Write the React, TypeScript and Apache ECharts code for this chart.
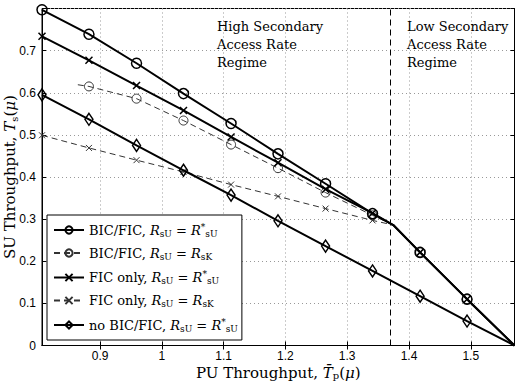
import React, { useEffect, useRef } from 'react';
import * as echarts from 'echarts';

// ---- data ----
const xTicks = [0.9, 1.0, 1.1, 1.2, 1.3, 1.4, 1.5];
const yTicks = [0, 0.1, 0.2, 0.3, 0.4, 0.5, 0.6, 0.7];
const xMin = 0.806;
const xMax = 1.5708;
const regimeBoundary = 1.3746;

const xKinked = [0.806, 0.882, 0.959, 1.035, 1.112, 1.188, 1.265, 1.341, 1.3746, 1.418, 1.494, 1.5708];
const xBicFicK = [0.864, 0.882, 0.959, 1.035, 1.112, 1.188, 1.265, 1.341, 1.3746, 1.418, 1.494, 1.5708];
const xNoBic = [0.806, 0.882, 0.959, 1.035, 1.112, 1.188, 1.265, 1.341, 1.418, 1.494, 1.5708];

const bicFicOpt = [0.797, 0.739, 0.670, 0.598, 0.527, 0.455, 0.384, 0.313, 0.286, 0.221, 0.110, 0];
const bicFicK = [0.619, 0.615, 0.586, 0.534, 0.477, 0.421, 0.363, 0.309, 0.286, 0.221, 0.110, 0];
const ficOnlyOpt = [0.734, 0.677, 0.617, 0.558, 0.495, 0.434, 0.371, 0.314, 0.286, 0.221, 0.110, 0];
const ficOnlyK = [0.499, 0.469, 0.440, 0.412, 0.382, 0.354, 0.325, 0.297, 0.286, 0.221, 0.110, 0];
const noBicFic = [0.595, 0.537, 0.475, 0.416, 0.357, 0.296, 0.236, 0.177, 0.117, 0.058, 0];

const noMarkerX = [0.864, 1.3746, 1.5708];

const seriesNames = [
  'BIC/FIC, RsU = R*sU',
  'BIC/FIC, RsU = RsK',
  'FIC only, RsU = R*sU',
  'FIC only, RsU = RsK',
  'no BIC/FIC, RsU = R*sU',
];
const legendRich: Record<string, string> = {
  'BIC/FIC, RsU = R*sU': '{n|BIC/FIC, }{i|R}{sub|sU}{n| = }{i|R}{sup|*}{sub|sU}',
  'BIC/FIC, RsU = RsK': '{n|BIC/FIC, }{i|R}{sub|sU}{n| = }{i|R}{sub|sK}',
  'FIC only, RsU = R*sU': '{n|FIC only, }{i|R}{sub|sU}{n| = }{i|R}{sup|*}{sub|sU}',
  'FIC only, RsU = RsK': '{n|FIC only, }{i|R}{sub|sU}{n| = }{i|R}{sub|sK}',
  'no BIC/FIC, RsU = R*sU': '{n|no BIC/FIC, }{i|R}{sub|sU}{n| = }{i|R}{sup|*}{sub|sU}',
};

const SERIF = 'DejaVu Serif';
const SANS = 'Liberation Sans';

function mkRich(size: number, lh: number) {
  const s = Math.round(size * 0.68);
  return {
    n: { fontFamily: SERIF, fontSize: size, lineHeight: lh, color: '#000' },
    i: { fontFamily: SERIF, fontStyle: 'italic', fontSize: size, lineHeight: lh, color: '#000' },
    sub: { fontFamily: SERIF, fontSize: s, lineHeight: s, verticalAlign: 'bottom', color: '#000' },
    sup: { fontFamily: SERIF, fontSize: s, lineHeight: s, verticalAlign: 'top', color: '#000' },
  };
}

const X_PATH = 'path://M0,0L10,10M10,0L0,10';
const DIAMOND_PATH = 'path://M5,0L10,7L5,14L0,7Z';

function buildData(xs: number[], ys: number[]) {
  return xs.map((x, i) =>
    noMarkerX.includes(x)
      ? { value: [x, ys[i]], symbol: 'none' }
      : { value: [x, ys[i]] }
  );
}

export default function App() {
  const ref = useRef<HTMLDivElement>(null);
  useEffect(() => {
    const chart = echarts.init(ref.current!, null, { renderer: 'svg' });

    const solidLine = { color: '#000', width: 2, type: 'solid' as const };
    const dashLine = { color: '#333', width: 1, type: [6, 4] as any };

    const option: any = {
      animation: false,
      backgroundColor: '#fff',
      grid: {
        left: 42, right: 1.5, top: 8.5, bottom: 37.5, show: true,
        borderColor: '#000', borderWidth: 1,
        containLabel: false, outerBoundsMode: 'none',
      },
      xAxis: [
        {
          type: 'value', min: xMin, max: xMax, position: 'bottom',
          name: '{n|PU Throughput, }{i|T̄}{sub|p}{n|(}{i|μ}{n|)}',
          nameLocation: 'middle', nameGap: 19, nameMoveOverlap: false,
          nameTextStyle: { rich: mkRich(15, 16) },
          axisLine: { lineStyle: { color: '#000', width: 1 } },
          axisTick: { inside: true, length: 4, customValues: xTicks, lineStyle: { color: '#000' } },
          axisLabel: { customValues: xTicks, color: '#000', fontFamily: SANS, fontSize: 12, lineHeight: 12, margin: 4 },
          splitLine: { show: true, lineStyle: { color: '#999', type: [1, 3], width: 1 } },
        },
        {
          type: 'value', min: xMin, max: xMax, position: 'top',
          axisLine: { lineStyle: { color: '#000', width: 1 } },
          axisTick: { inside: true, length: 4, customValues: xTicks, lineStyle: { color: '#000' } },
          axisLabel: { show: false },
          splitLine: { show: false },
        },
      ],
      yAxis: [
        {
          type: 'value', min: 0, max: 0.8, interval: 0.1, position: 'left',
          name: '{n|SU Throughput, }{i|T}{sub|s}{n|(}{i|μ}{n|)}',
          nameLocation: 'middle', nameGap: 23, nameRotate: 90, nameMoveOverlap: false,
          nameTextStyle: { rich: mkRich(15, 18) },
          axisLine: { lineStyle: { color: '#000', width: 1 } },
          axisTick: { inside: true, length: 4, lineStyle: { color: '#000' } },
          axisLabel: {
            color: '#000', fontFamily: SANS, fontSize: 12, margin: 6,
            formatter: (v: number) => {
              const r = Math.round(v * 10) / 10;
              return yTicks.includes(r) ? String(r) : '';
            },
          },
          splitLine: { show: true, lineStyle: { color: '#999', type: [1, 3], width: 1 } },
        },
        {
          type: 'value', min: 0, max: 0.8, interval: 0.1, position: 'right',
          axisLine: { lineStyle: { color: '#000', width: 1 } },
          axisTick: { inside: true, length: 4, lineStyle: { color: '#000' } },
          axisLabel: { show: false },
          splitLine: { show: false },
        },
      ],
      legend: {
        orient: 'vertical',
        left: 47, top: 215,
        data: seriesNames,
        backgroundColor: '#fff',
        borderColor: '#000', borderWidth: 1,
        padding: [7, 4, 7, 6],
        itemWidth: 30, itemHeight: 9, itemGap: 8.5,
        formatter: (name: string) => legendRich[name] || name,
        textStyle: { rich: mkRich(13, 16) },
        selectedMode: false,
        z: 10,
      },
      graphic: [
        {
          type: 'text', left: 217, top: 17.5, z: 5,
          style: { text: 'High Secondary\nAccess Rate\nRegime', font: `13px "${SERIF}"`, fill: '#000', lineHeight: 18 },
        },
        {
          type: 'text', left: 407, top: 17.5, z: 5,
          style: { text: 'Low Secondary\nAccess Rate\nRegime', font: `13px "${SERIF}"`, fill: '#000', lineHeight: 18 },
        },
      ],
      series: [
        {
          name: seriesNames[0], type: 'line', z: 4, clip: false,
          data: buildData(xKinked, bicFicOpt),
          symbol: 'circle', symbolSize: 10,
          itemStyle: { color: 'transparent', borderColor: '#000', borderWidth: 1.5 },
          lineStyle: solidLine,
          markLine: {
            silent: true, symbol: 'none', label: { show: false },
            lineStyle: { color: '#000', width: 1, type: [6, 4] },
            data: [{ xAxis: regimeBoundary }],
          },
        },
        {
          name: seriesNames[1], type: 'line', z: 3, clip: false,
          data: buildData(xBicFicK, bicFicK),
          symbol: 'circle', symbolSize: 9,
          itemStyle: { color: 'transparent', borderColor: '#333', borderWidth: 1 },
          lineStyle: dashLine,
        },
        {
          name: seriesNames[2], type: 'line', z: 4, clip: false,
          data: buildData(xKinked, ficOnlyOpt),
          symbol: X_PATH, symbolSize: 7,
          itemStyle: { color: 'transparent', borderColor: '#000', borderWidth: 1.5 },
          lineStyle: solidLine,
        },
        {
          name: seriesNames[3], type: 'line', z: 3, clip: false,
          data: buildData(xKinked, ficOnlyK),
          symbol: X_PATH, symbolSize: 6,
          itemStyle: { color: 'transparent', borderColor: '#333', borderWidth: 1 },
          lineStyle: dashLine,
        },
        {
          name: seriesNames[4], type: 'line', z: 4, clip: false,
          data: buildData(xNoBic, noBicFic),
          symbol: DIAMOND_PATH, symbolSize: [8, 12], symbolKeepAspect: false,
          itemStyle: { color: 'transparent', borderColor: '#000', borderWidth: 1.5 },
          lineStyle: solidLine,
        },
      ],
    };
    chart.setOption(option);
    return () => chart.dispose();
  }, []);
  return <div ref={ref} style={{ position: 'fixed', left: 0, top: 0, width: 516, height: 383 }} />;
}
